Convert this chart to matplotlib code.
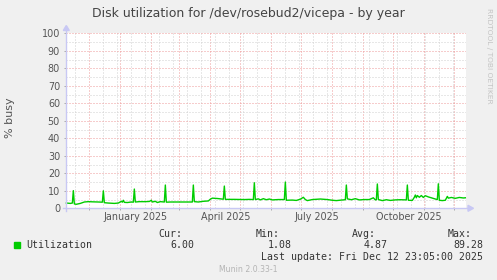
import matplotlib
matplotlib.use("Agg")
import matplotlib.pyplot as plt
import matplotlib.dates as mdates
import matplotlib.ticker as mticker
import matplotlib.transforms as mtransforms
from matplotlib.patches import Rectangle, Polygon
from matplotlib.lines import Line2D
from datetime import datetime
import pandas as pd

W, H = 497, 280

# disk utilization (% busy)
dates = [
    "2024-11-08", "2024-11-12", "2024-11-14", "2024-11-15", "2024-11-16", "2024-11-18",
    "2024-11-22", "2024-11-26", "2024-11-30", "2024-12-04", "2024-12-10", "2024-12-14",
    "2024-12-15", "2024-12-16", "2024-12-20", "2024-12-26", "2024-12-30", "2025-01-02",
    "2025-01-03", "2025-01-04", "2025-01-05", "2025-01-08", "2025-01-12", "2025-01-14",
    "2025-01-15", "2025-01-16", "2025-01-20", "2025-01-26", "2025-01-30", "2025-02-01",
    "2025-02-02", "2025-02-05", "2025-02-07", "2025-02-10", "2025-02-14", "2025-02-15",
    "2025-02-16", "2025-02-20", "2025-03-01", "2025-03-08", "2025-03-14", "2025-03-15",
    "2025-03-16", "2025-03-20", "2025-03-25", "2025-03-30", "2025-04-01", "2025-04-03",
    "2025-04-08", "2025-04-14", "2025-04-15", "2025-04-16", "2025-04-25", "2025-05-05",
    "2025-05-10", "2025-05-14", "2025-05-15", "2025-05-16", "2025-05-19", "2025-05-21",
    "2025-05-24", "2025-05-27", "2025-05-30", "2025-06-02", "2025-06-08", "2025-06-14",
    "2025-06-15", "2025-06-16", "2025-06-22", "2025-06-26", "2025-06-30", "2025-07-03",
    "2025-07-05", "2025-07-07", "2025-07-12", "2025-07-20", "2025-07-27", "2025-08-01",
    "2025-08-05", "2025-08-10", "2025-08-14", "2025-08-15", "2025-08-16", "2025-08-20",
    "2025-08-24", "2025-08-28", "2025-09-02", "2025-09-07", "2025-09-11", "2025-09-13",
    "2025-09-14", "2025-09-15", "2025-09-16", "2025-09-20", "2025-09-24", "2025-09-28",
    "2025-10-03", "2025-10-08", "2025-10-14", "2025-10-15", "2025-10-16", "2025-10-20",
    "2025-10-22", "2025-10-23", "2025-10-24", "2025-10-25", "2025-10-27", "2025-10-29",
    "2025-10-31", "2025-11-02", "2025-11-05", "2025-11-08", "2025-11-12", "2025-11-14",
    "2025-11-15", "2025-11-16", "2025-11-19", "2025-11-22", "2025-11-24", "2025-11-25",
    "2025-11-28", "2025-12-02", "2025-12-06", "2025-12-10", "2025-12-12",
]
util = [
    3.0, 2.8, 3.0, 10.1, 2.5, 2.3,
    2.8, 3.6, 3.8, 3.7, 3.6, 3.5,
    10.0, 3.2, 3.0, 2.8, 3.0, 4.0,
    3.5, 4.6, 3.4, 3.3, 3.6, 3.5,
    11.0, 3.6, 3.8, 3.8, 3.9, 4.6,
    3.6, 4.0, 3.3, 3.8, 3.6, 13.3,
    3.5, 3.6, 3.6, 3.6, 3.6, 13.3,
    3.8, 3.6, 4.0, 4.2, 5.2, 5.8,
    5.6, 5.2, 12.7, 5.1, 5.1, 5.0,
    5.1, 5.0, 14.6, 5.0, 5.4, 4.8,
    5.5, 4.9, 5.3, 4.8, 5.0, 5.0,
    15.0, 4.6, 4.7, 4.5, 5.2, 6.3,
    5.0, 4.4, 5.0, 5.3, 5.0, 4.6,
    4.4, 4.7, 4.9, 13.3, 5.4, 4.9,
    5.5, 4.8, 5.0, 5.0, 6.0, 4.8,
    4.9, 13.9, 5.0, 4.4, 4.9, 4.5,
    4.8, 4.9, 4.8, 13.3, 4.6, 4.5,
    6.3, 7.6, 6.0, 7.3, 6.3, 7.3,
    6.2, 7.2, 6.5, 6.0, 5.3, 5.0,
    14.0, 4.6, 4.4, 4.6, 6.8, 5.8,
    6.2, 5.7, 6.2, 5.9, 6.0,
]

legend_name = "Utilization"
stat_names = ["Cur:", "Min:", "Avg:", "Max:"]
stat_values = ["6.00", "1.08", "4.87", "89.28"]

x = pd.to_datetime(dates).to_pydatetime()
t0 = datetime(2024, 11, 7, 23, 5)
t1 = datetime(2025, 12, 12, 23, 5)

bg = "#F0F0F0"
txt = "#555555"
green = "#00CC00"
axis_c = "#C8C8F4"

fig = plt.figure(figsize=(W / 100, H / 100), dpi=100, facecolor=bg)


def fx(px):
    return px / W


def fy(py):
    return 1 - py / H


ax = fig.add_axes([fx(66.3), fy(208.3), 400 / W, 175 / H])
ax.set_facecolor("white")
ax.plot(x, util, color=green, lw=1.0, zorder=3, clip_on=False)
ax.set_xlim(t0, t1)
ax.set_ylim(0, 100)

# grid: red on months / tens, grey on fortnights / fives
ax.xaxis.set_major_locator(mdates.MonthLocator())
ax.xaxis.set_major_formatter(mticker.NullFormatter())
fortnights = pd.date_range("2024-11-17", "2025-12-12", freq="14D").to_pydatetime()
ax.xaxis.set_minor_locator(mticker.FixedLocator(mdates.date2num(fortnights)))
ax.yaxis.set_major_locator(mticker.MultipleLocator(10))
ax.yaxis.set_minor_locator(mticker.MultipleLocator(5))
dots = (0, (1, 2))
ax.grid(which="minor", color="#D0D0D0", lw=0.72, ls=dots, zorder=1)
ax.grid(which="major", color="#EE9A9A", lw=0.72, ls=dots, zorder=2)

for s in ax.spines.values():
    s.set_visible(False)
ax.tick_params(which="major", length=1.5, width=0.7, color="#A8A8A8",
               labelsize=6.9, labelcolor=txt, pad=3)
ax.tick_params(which="minor", length=0)
ax.yaxis.set_major_formatter(mticker.FormatStrFormatter("%d"))

# month labels centred mid-month
lab_trans = mtransforms.blended_transform_factory(ax.transData, fig.transFigure)
for d in mdates.MonthLocator(bymonth=[1, 4, 7, 10], bymonthday=16).tick_values(t0, t1):
    ax.text(d, fy(216.7), mdates.num2date(d).strftime("%B %Y"), transform=lab_trans,
            ha="center", va="center", fontsize=6.9, color=txt)

# axis lines with arrows
fig.add_artist(Line2D([fx(66.3), fx(66.3)], [fy(211), fy(29)], color=axis_c, lw=1.0))
fig.add_artist(Line2D([fx(63), fx(470)], [fy(208.3), fy(208.3)], color=axis_c, lw=1.0))
fig.add_artist(Polygon([[fx(63.3), fy(30.5)], [fx(69.3), fy(30.5)], [fx(66.3), fy(25.5)]],
                       closed=True, color=axis_c, transform=fig.transFigure))
fig.add_artist(Polygon([[fx(468), fy(205.3)], [fx(468), fy(211.3)], [fx(473.5), fy(208.3)]],
                       closed=True, color=axis_c, transform=fig.transFigure))

# titles
fig.text(fx(248.5), fy(13), "Disk utilization for /dev/rosebud2/vicepa - by year",
         ha="center", va="center", fontsize=9.0, color="#444444")
fig.text(fx(10), fy(118), "% busy", rotation=90, ha="center", va="center",
         fontsize=8.0, color=txt)
fig.text(fx(488.5), fy(56), "RRDTOOL / TOBI OETIKER", rotation=-90, ha="center",
         va="center", fontsize=5.4, color="#C4C4C4")

# legend
mono = "DejaVu Sans Mono"
fig.add_artist(Rectangle((fx(14), fy(247.7)), 6 / W, 5.4 / H, color=green,
                         transform=fig.transFigure))
fig.text(fx(26.5), fy(245.3), legend_name, ha="left", va="center", family=mono,
         fontsize=7.15, color="#333333")
for name, val, right in zip(stat_names, stat_values, [194, 291.3, 387.3, 483.3]):
    fig.text(fx(right - 35.3), fy(233.8), name, ha="left", va="center", family=mono,
             fontsize=7.15, color="#333333")
    fig.text(fx(right), fy(245.3), val, ha="right", va="center", family=mono,
             fontsize=7.15, color="#333333")
fig.text(fx(483.3), fy(257.3), "Last update: Fri Dec 12 23:05:00 2025", ha="right",
         va="center", family=mono, fontsize=7.15, color="#333333")
fig.text(fx(248.5), fy(269.3), "Munin 2.0.33-1", ha="center", va="center",
         fontsize=5.6, color="#B4B4B4")

fig.savefig("out.png", dpi=100, facecolor=bg)
